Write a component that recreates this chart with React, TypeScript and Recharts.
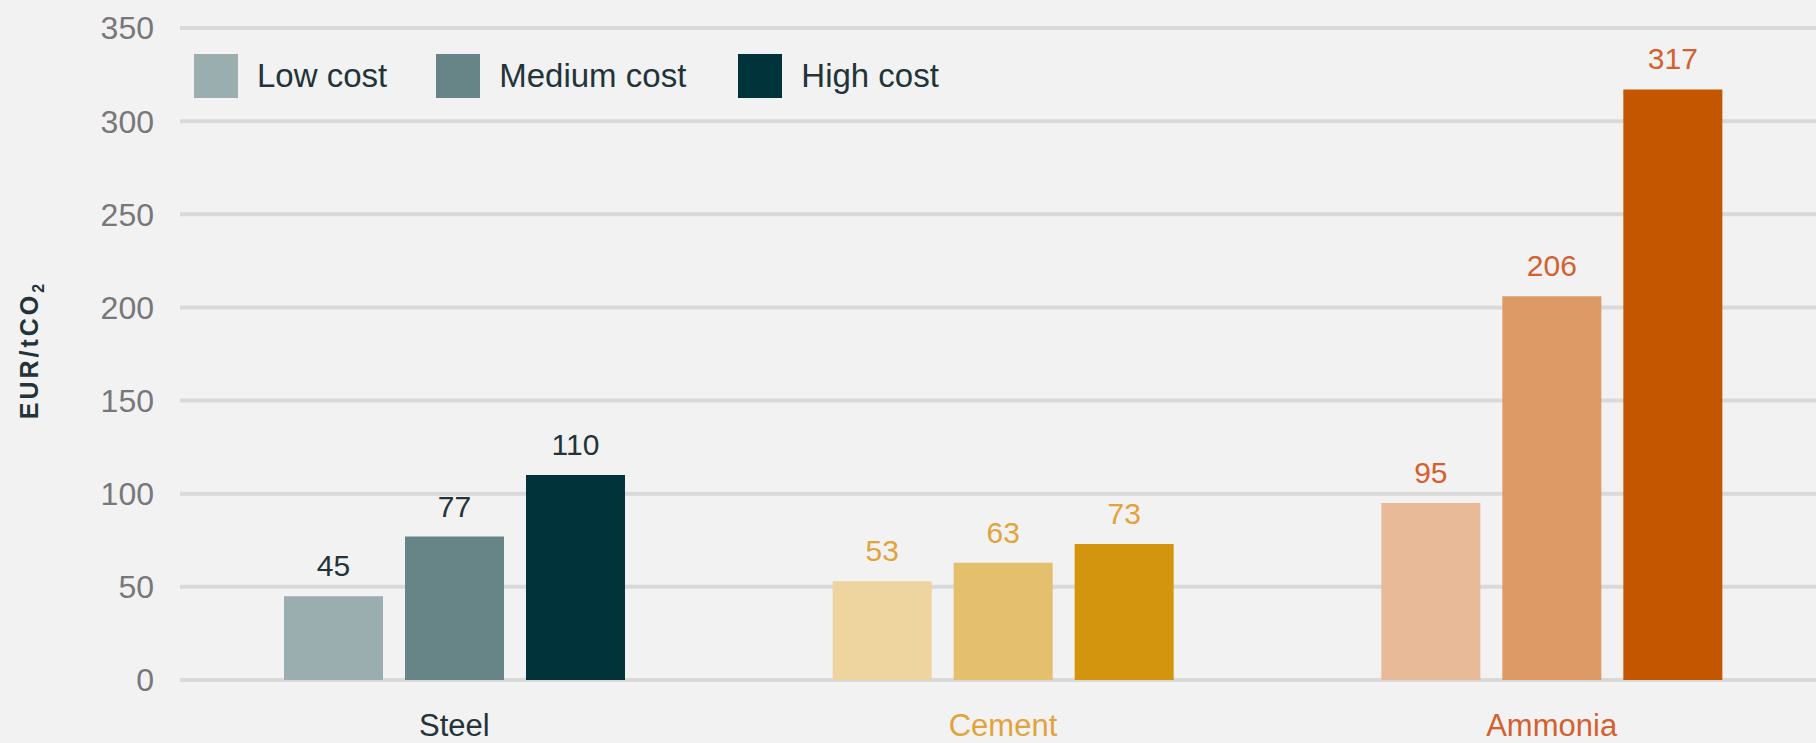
import { BarChart, Bar, XAxis, YAxis, CartesianGrid, Cell, LabelList } from 'recharts';

// values
const categories = ['Steel', 'Cement', 'Ammonia'];
const lowCost = [45, 53, 95];
const mediumCost = [77, 63, 206];
const highCost = [110, 73, 317];
const yTicks = [0, 50, 100, 150, 200, 250, 300, 350];

// each category has its own palette: [low, medium, high]
const PALETTES = [
  ['#9aadaf', '#678587', '#00333a'],
  ['#eed49e', '#e4bf6e', '#d4950e'],
  ['#e8ba98', '#dd9a67', '#c55600'],
];
const TEXT_COLORS = ['#22343a', '#e2a33a', '#d4602e'];

const FONT = '"Liberation Sans", Arial, sans-serif';
const BG = '#f2f2f2';

const data = categories.map((name, i) => ({
  name,
  low: lowCost[i],
  medium: mediumCost[i],
  high: highCost[i],
}));

const SERIES = [
  { key: 'low', label: 'Low cost' },
  { key: 'medium', label: 'Medium cost' },
  { key: 'high', label: 'High cost' },
];

function CategoryTick({ x, y, payload, index }: any) {
  return (
    <text x={x} y={y} dy="0.71em" textAnchor="middle" fontFamily={FONT} fontSize={31} fill={TEXT_COLORS[index]}>
      {payload.value}
    </text>
  );
}

function ValueLabel({ x, y, width, value, index }: any) {
  return (
    <text
      x={x + width / 2}
      y={y - 20}
      textAnchor="middle"
      fontFamily={FONT}
      fontSize={30}
      fill={TEXT_COLORS[index]}
    >
      {value}
    </text>
  );
}

// legend drawn as an overlay so it doesn't push the plot down
function LegendBox() {
  return (
    <div
      style={{
        position: 'absolute',
        left: 194,
        top: 54,
        display: 'flex',
        alignItems: 'center',
        fontFamily: FONT,
        fontSize: 33,
        color: '#22343a',
        zIndex: 2,
      }}
    >
      {SERIES.map((s, i) => (
        <div key={s.key} style={{ display: 'flex', alignItems: 'center', marginRight: i === 0 ? 49 : 52 }}>
          <div style={{ width: 44, height: 44, background: PALETTES[0][i], marginRight: 19 }} />
          <span>{s.label}</span>
        </div>
      ))}
    </div>
  );
}

function YTitle() {
  return (
    <text
      transform="translate(38, 350) rotate(-90)"
      textAnchor="middle"
      fontFamily={FONT}
      fontSize={25}
      fontWeight="bold"
      letterSpacing={3}
      fill="#22343a"
    >
      EUR/tCO<tspan fontSize={16} dy={6}>2</tspan>
    </text>
  );
}

export default function App() {
  return (
    <div style={{ position: 'absolute', left: 0, top: 0, width: 1816, height: 743, overflow: 'hidden', background: BG }}>
      <svg width={60} height={743} style={{ position: 'absolute', left: 0, top: 0, zIndex: 2 }}>
        <YTitle />
      </svg>
      <LegendBox />
      <BarChart
        width={1826}
        height={743}
        data={data}
        margin={{ top: 28, right: 0, bottom: 0, left: 0 }}
        barGap={22}
        barSize={99}
      >
        <CartesianGrid vertical={false} stroke="#d9d9d9" strokeWidth={4} />
        <XAxis
          dataKey="name"
          height={63}
          axisLine={false}
          tickLine={false}
          tickSize={0}
          tickMargin={34}
          tick={<CategoryTick />}
          interval={0}
        />
        <YAxis
          width={180}
          domain={[0, 350]}
          ticks={yTicks}
          axisLine={false}
          tickLine={false}
          tickSize={0}
          tickMargin={26}
          tick={{ fontFamily: FONT, fontSize: 32, fill: '#77777c' }}
          interval={0}
        />
        {SERIES.map((s, si) => (
          <Bar key={s.key} dataKey={s.key} name={s.label} isAnimationActive={false}>
            {data.map((_, ci) => (
              <Cell key={ci} fill={PALETTES[ci][si]} />
            ))}
            <LabelList dataKey={s.key} content={<ValueLabel />} />
          </Bar>
        ))}
      </BarChart>
    </div>
  );
}
